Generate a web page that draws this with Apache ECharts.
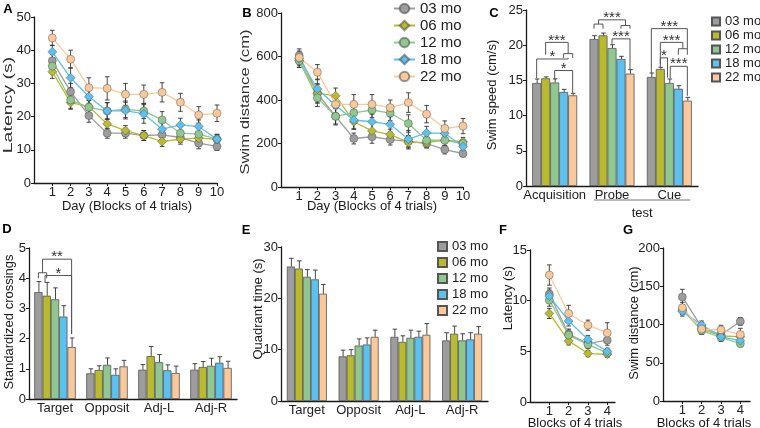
<!DOCTYPE html>
<html><head><meta charset="utf-8">
<script src="https://cdn.jsdelivr.net/npm/echarts@6/dist/echarts.min.js"></script>
<style>html,body{margin:0;padding:0;background:#fff}#c{width:760px;height:428px}</style>
</head><body><div id="c"></div>
<script>
// ---------------- data ----------------
const groups = ['03 mo', '06 mo', '12 mo', '18 mo', '22 mo'];
const days = [1, 2, 3, 4, 5, 6, 7, 8, 9, 10];
const blocks = [1, 2, 3, 4];
const catsC = ['Acquisition', 'Probe', 'Cue'];
const catsDE = ['Target', 'Opposit', 'Adj-L', 'Adj-R'];

// A: latency (s) per day, per group
const latencyA = [
  [36.8, 27.5, 20.3, 15.0, 15.0, 14.3, 14.5, 13.7, 12.0, 11.0],
  [33.5, 24.2, 23.0, 17.8, 15.8, 14.3, 12.5, 13.2, 13.5, 13.2],
  [35.2, 25.0, 22.8, 21.7, 22.2, 21.7, 19.0, 15.0, 14.7, 13.2],
  [39.5, 31.7, 26.0, 21.7, 21.8, 20.8, 16.2, 17.5, 17.0, 13.2],
  [43.7, 37.3, 28.7, 28.5, 26.7, 26.7, 27.3, 24.3, 20.5, 21.0]
];
const latencyAErr = [
  [2.0, 2.5, 2.0, 1.5, 1.5, 1.5, 1.5, 1.5, 1.7, 1.2],
  [2.0, 2.0, 2.0, 1.5, 1.5, 1.5, 1.5, 1.5, 1.5, 1.3],
  [2.0, 2.5, 2.0, 2.5, 2.5, 2.3, 2.5, 2.0, 1.8, 1.3],
  [2.0, 3.0, 2.0, 2.5, 2.5, 2.8, 2.0, 2.0, 2.0, 1.5],
  [2.3, 2.7, 3.0, 3.5, 3.3, 2.8, 2.9, 2.7, 2.5, 2.5]
];
// B: swim distance (cm)
const distanceB = [
  [605, 430, 325, 223, 231, 218, 210, 200, 172, 154],
  [580, 430, 420, 300, 258, 241, 205, 205, 215, 208],
  [580, 410, 325, 341, 354, 340, 292, 215, 215, 200],
  [590, 451, 375, 308, 300, 288, 220, 249, 247, 185],
  [595, 528, 380, 380, 380, 365, 388, 335, 269, 280]
];
const distanceBErr = [
  [30, 40, 40, 25, 30, 25, 25, 20, 20, 15],
  [30, 45, 35, 35, 35, 25, 30, 25, 25, 20],
  [30, 40, 35, 30, 35, 35, 40, 25, 25, 20],
  [30, 45, 40, 40, 40, 35, 40, 30, 30, 20],
  [30, 35, 40, 45, 45, 35, 45, 40, 35, 35]
];
// C: swim speed (cm/s) [Acquisition, Probe, Cue]
const speedC = [
  [14.63, 20.88, 15.48],
  [15.30, 21.40, 16.62],
  [14.70, 19.60, 14.63],
  [13.35, 18.04, 13.82],
  [12.88, 15.96, 12.12]
];
const speedCErr = [
  [0.57, 0.47, 0.57],
  [0.20, 0.33, 0.24],
  [0.52, 0.47, 0.57],
  [0.38, 0.38, 0.43],
  [0.28, 0.57, 0.47]
];
// C brackets: [category, slotFrom, slotTo, top, bottomFrom, bottomTo]
const bracketsC = [
  [0, 1, 2, 18.8, 18.2, 18.2],
  [0, -1, 1.5, 20.4, 18.65, 18.8],
  [0, -2, 1.5, 18.04, 15.3, 18.2],
  [0, 0, 2, 16.4, 15.1, 13.2],
  [1, -2, -1, 23.0, 22.35, 22.35],
  [1, 1, 2, 22.8, 22.35, 22.35],
  [1, -1.5, 1.5, 23.6, 23.0, 22.8],
  [1, 0, 2, 20.9, 20.2, 16.5],
  [2, -2, 2, 22.35, 16.05, 19.5],
  [2, 1, 2, 19.5, 18.65, 18.65],
  [2, -1, 1.5, 20.4, 17.3, 19.5],
  [2, -1, -0.2, 18.2, 16.9, 15.4],
  [2, 0.1, 2, 17.0, 15.3, 12.8]
];
const bracketsCLabels = ['', '***', '*', '*', '', '', '***', '***', '***', '', '***', '*', '***'];
// D: standardized crossings [Target, Opposit, Adj-L, Adj-R]
const crossingsD = [
  [3.54, 0.85, 0.97, 0.97],
  [3.42, 0.96, 1.42, 1.06],
  [3.30, 1.13, 1.22, 1.10],
  [2.73, 0.80, 0.95, 1.20],
  [1.72, 1.08, 0.86, 1.03]
];
const crossingsDErr = [
  [0.35, 0.15, 0.17, 0.20],
  [0.44, 0.14, 0.32, 0.18],
  [0.38, 0.23, 0.25, 0.25],
  [0.36, 0.20, 0.18, 0.20],
  [0.30, 0.20, 0.23, 0.22]
];
const bracketsD = [
  [0, -2, -1, 4.18, 4.0, 4.0],
  [0, -1.5, 2, 4.63, 4.18, 2.15],
  [0, -1.2, 2, 4.09, 3.85, 2.15]
];
const bracketsDLabels = ['', '**', '*'];
// E: quadrant time (s)
const quadrantE = [
  [26.2, 8.7, 12.5, 11.8],
  [25.8, 8.9, 11.5, 13.1],
  [24.2, 10.8, 12.3, 11.8],
  [23.7, 11.0, 12.5, 12.0],
  [20.9, 12.5, 12.9, 13.1]
];
const quadrantEErr = [
  [1.6, 1.2, 1.5, 1.5],
  [1.5, 1.1, 1.2, 1.5],
  [1.4, 1.3, 1.5, 1.3],
  [1.8, 1.3, 1.1, 1.3],
  [1.8, 1.3, 2.2, 1.4]
];
// F: cue latency (s)
const latencyF = [
  [10.65, 6.70, 5.77, 6.10],
  [8.74, 6.03, 4.78, 4.71],
  [10.05, 6.60, 5.67, 4.85],
  [10.45, 8.00, 6.17, 5.00],
  [12.53, 8.74, 7.58, 6.82]
];
const latencyFErr = [
  [0.6, 0.5, 0.4, 0.5],
  [0.5, 0.4, 0.3, 0.3],
  [0.6, 0.5, 0.4, 0.3],
  [0.6, 0.5, 0.4, 0.3],
  [1.0, 0.8, 0.5, 1.0]
];
// G: cue swim distance (cm)
const distanceG = [
  [136, 96.5, 86.5, 104],
  [119, 94, 85, 84],
  [120, 92, 83, 75],
  [117, 99.5, 84, 79],
  [122, 94, 93, 87]
];
const distanceGErr = [
  [10, 6, 6, 5],
  [6, 5, 5, 5],
  [6, 5, 5, 4],
  [6, 5, 5, 4],
  [7, 6, 6, 8]
];

// ---------------- style ----------------
const colors = ['#9d9d9d', '#b9ba2f', '#90c790', '#5cc1ee', '#f9c89b'];
const symbols = ['circle', 'diamond', 'circle', 'diamond', 'circle'];
const FONT = '"Liberation Sans", Arial, sans-serif';
const INK = '#1a1a1a';

const chart = echarts.init(document.getElementById('c'));

const gridDefs = [
  {left: 34, top: 17, width: 183, height: 166},   // A
  {left: 281, top: 13, width: 182, height: 174},  // B
  {left: 526, top: 10, width: 172, height: 176},  // C
  {left: 29, top: 248, width: 208, height: 151},  // D
  {left: 281, top: 247, width: 207, height: 154}, // E
  {left: 530, top: 250, width: 85, height: 152},  // F
  {left: 663, top: 248, width: 87, height: 153}   // G
].map(g => Object.assign({outerBoundsMode: 'none', containLabel: false}, g));

const axisLine = {show: true, lineStyle: {color: INK, width: 1.3}};
const labelStyle = {color: '#222', fontSize: 13, fontFamily: FONT};

function yAx(grid, max, interval) {
  return {type: 'value', gridIndex: grid, min: 0, max: max, interval: interval,
    axisLine: axisLine, axisTick: {show: true, length: 3, lineStyle: {color: INK}},
    axisLabel: Object.assign({margin: 3}, labelStyle), splitLine: {show: false}};
}
function xVal(grid, max, ticks) {
  return {type: 'value', gridIndex: grid, min: 0, max: max,
    axisLine: axisLine,
    axisTick: {show: true, length: 3, lineStyle: {color: INK}, customValues: ticks},
    axisLabel: Object.assign({margin: 3, customValues: ticks}, labelStyle),
    splitLine: {show: false}};
}
function xCat(grid, data) {
  return {type: 'category', gridIndex: grid, data: data, axisLine: axisLine,
    axisTick: {show: false}, axisLabel: Object.assign({margin: 3, interval: 0}, labelStyle)};
}

function lineErr(params, api) {
  const x = api.value(0), y = api.value(1), e = api.value(2);
  const t = api.coord([x, y + e]), b = api.coord([x, y - e]);
  const w = 2.3, st = {stroke: '#333', lineWidth: 0.9};
  return {type: 'group', children: [
    {type: 'line', shape: {x1: t[0], y1: t[1], x2: b[0], y2: b[1]}, style: st},
    {type: 'line', shape: {x1: t[0] - w, y1: t[1], x2: t[0] + w, y2: t[1]}, style: st},
    {type: 'line', shape: {x1: b[0] - w, y1: b[1], x2: b[0] + w, y2: b[1]}, style: st}
  ]};
}
function barErr(slot, bw) {
  return function (params, api) {
    const cat = api.value(0), v = api.value(1), e = api.value(2);
    const c = api.coord([cat, v]), t = api.coord([cat, v + e]);
    const x = c[0] + slot * bw + 0.5, w = 2.3, st = {stroke: '#333', lineWidth: 0.9};
    return {type: 'group', children: [
      {type: 'line', shape: {x1: x, y1: c[1], x2: x, y2: t[1]}, style: st},
      {type: 'line', shape: {x1: x - w, y1: t[1], x2: x + w, y2: t[1]}, style: st}
    ]};
  };
}
function bracket(bw, labels) {
  return function (params, api) {
    const cat = api.value(0), s1 = api.value(1), s2 = api.value(2);
    const c = api.coord([cat, api.value(3)]);
    const x1 = c[0] + s1 * bw, x2 = c[0] + s2 * bw, yT = c[1];
    const y1 = api.coord([cat, api.value(4)])[1], y2 = api.coord([cat, api.value(5)])[1];
    const ch = [{type: 'polyline', shape: {points: [[x1, y1], [x1, yT], [x2, yT], [x2, y2]]},
      style: {stroke: '#555', lineWidth: 1, fill: null}}];
    const lab = labels[params.dataIndex];
    if (lab) ch.push({type: 'text', x: (x1 + x2) / 2, y: yT - 2,
      style: {text: lab, font: '15px ' + FONT, fill: '#333', align: 'center', verticalAlign: 'middle'}});
    return {type: 'group', children: ch};
  };
}

const series = [];
// line panels
const linePanels = [
  {ax: 0, xs: days, vals: latencyA, errs: latencyAErr},
  {ax: 1, xs: days, vals: distanceB, errs: distanceBErr},
  {ax: 5, xs: blocks, vals: latencyF, errs: latencyFErr},
  {ax: 6, xs: blocks, vals: distanceG, errs: distanceGErr}
];
linePanels.forEach(p => {
  groups.forEach((g, gi) => {
    series.push({type: 'line', name: g, xAxisIndex: p.ax, yAxisIndex: p.ax, z: 3,
      data: p.xs.map((x, i) => [x, p.vals[gi][i]]),
      symbol: symbols[gi], symbolSize: symbols[gi] === 'diamond' ? 9 : 8,
      lineStyle: {color: colors[gi], width: 1.3},
      itemStyle: {color: colors[gi], borderColor: 'rgba(60,60,60,0.5)', borderWidth: 0.8}});
  });
  groups.forEach((g, gi) => {
    series.push({type: 'custom', name: 'err ' + g, xAxisIndex: p.ax, yAxisIndex: p.ax, z: 2,
      renderItem: lineErr, encode: {x: 0, y: 1},
      data: p.xs.map((x, i) => [x, p.vals[gi][i], p.errs[gi][i]])});
  });
});
// bar panels
const barPanels = [
  {ax: 2, vals: speedC, errs: speedCErr, bw: 9, br: bracketsC, bl: bracketsCLabels},
  {ax: 3, vals: crossingsD, errs: crossingsDErr, bw: 8.3, br: bracketsD, bl: bracketsDLabels},
  {ax: 4, vals: quadrantE, errs: quadrantEErr, bw: 8, br: null}
];
barPanels.forEach(p => {
  groups.forEach((g, gi) => {
    series.push({type: 'bar', name: 'bar:' + g, xAxisIndex: p.ax, yAxisIndex: p.ax, z: 2,
      data: p.vals[gi], barWidth: p.bw, barGap: '0%',
      itemStyle: {color: colors[gi], borderColor: '#555', borderWidth: 0.8}});
  });
  groups.forEach((g, gi) => {
    series.push({type: 'custom', name: 'barerr ' + g, xAxisIndex: p.ax, yAxisIndex: p.ax, z: 3,
      renderItem: barErr(gi - 2, p.bw), encode: {x: 0, y: 1},
      data: p.vals[gi].map((v, i) => [i, v, p.errs[gi][i]])});
  });
  if (p.br) {
    series.push({type: 'custom', name: 'brackets', xAxisIndex: p.ax, yAxisIndex: p.ax, z: 4,
      renderItem: bracket(p.bw, p.bl), encode: {x: 0, y: 3}, data: p.br});
  }
});

function ytitle(text, x, y, sx, fill) {
  return {type: 'text', x: x, y: y, rotation: Math.PI / 2, scaleX: sx || 1,
    style: {text: text, font: '13px ' + FONT, fill: fill || INK, align: 'center', verticalAlign: 'middle'}};
}
function xtitle(text, x, y) {
  return {type: 'text', x: x, y: y,
    style: {text: text, font: '13px ' + FONT, fill: INK, align: 'center', verticalAlign: 'middle'}};
}
function letter(t, x, y) {
  return {type: 'text', x: x, y: y,
    style: {text: t, font: 'bold 13px ' + FONT, fill: '#000', align: 'center', verticalAlign: 'middle'}};
}

const option = {
  animation: false,
  backgroundColor: '#fff',
  grid: gridDefs,
  xAxis: [
    xVal(0, 10, days), xVal(1, 10, days), xCat(2, catsC), xCat(3, catsDE), xCat(4, catsDE),
    xVal(5, 4.4, blocks), xVal(6, 4.5, blocks)
  ],
  yAxis: [
    yAx(0, 50, 10), yAx(1, 800, 200), yAx(2, 25, 5), yAx(3, 5, 1), yAx(4, 30, 10),
    yAx(5, 15, 5), yAx(6, 200, 50)
  ],
  legend: [
    {orient: 'vertical', left: 393, top: 1, padding: 0, itemWidth: 21, itemHeight: 12, itemGap: 2,
      data: groups, selectedMode: false,
      textStyle: {fontSize: 15, fontFamily: FONT, color: '#222'}},
    {orient: 'vertical', left: 711, top: 15, padding: 0, itemWidth: 8, itemHeight: 8, itemGap: 1, icon: 'rect',
      data: groups.map(g => 'bar:' + g), formatter: n => n.slice(4), selectedMode: false,
      textStyle: {fontSize: 13, fontFamily: FONT, color: '#222'}},
    {orient: 'vertical', left: 437, top: 240, padding: 0, itemWidth: 9, itemHeight: 9, itemGap: 3, icon: 'rect',
      data: groups.map(g => 'bar:' + g), formatter: n => n.slice(4), selectedMode: false,
      textStyle: {fontSize: 13, fontFamily: FONT, color: '#222'}}
  ],
  series: series
};
chart.setOption(option);

// annotations positioned through the chart's own coordinate conversion
const pP = chart.convertToPixel({gridIndex: 2}, ['Probe', 0]);
const pC = chart.convertToPixel({gridIndex: 2}, ['Cue', 0]);
const tx1 = pP[0] - 18, tx2 = pC[0] + 21;
chart.setOption({
  graphic: [
    letter('A', 8, 9), letter('B', 247, 13), letter('C', 494, 13),
    letter('D', 7, 229), letter('E', 246, 230), letter('F', 503, 230), letter('G', 628, 230),
    ytitle('Latency (s)', 8, 105, 1.5, '#333'),
    ytitle('Swim distance (cm)', 245, 102, 1.28, '#333'),
    ytitle('Swim speed (cm/s)', 492, 95, 1.0),
    ytitle('Standardized crossings', 9, 322, 1.0),
    ytitle('Quadrant time (s)', 258, 309, 1.0),
    ytitle('Latency (s)', 508, 298, 1.0),
    ytitle('Swim distance (cm)', 634, 323, 1.0),
    xtitle('Day (Blocks of 4 trials)', 127, 206),
    xtitle('Day (Blocks of 4 trials)', 372, 206),
    xtitle('Blocks of 4 trials', 575, 423),
    xtitle('Blocks of 4 trials', 704, 423),
    {type: 'line', shape: {x1: tx1, y1: pP[1] + 14, x2: tx2, y2: pP[1] + 14},
      style: {stroke: '#777', lineWidth: 1}},
    xtitle('test', (tx1 + tx2) / 2, pP[1] + 27)
  ]
});
</script></body></html>
